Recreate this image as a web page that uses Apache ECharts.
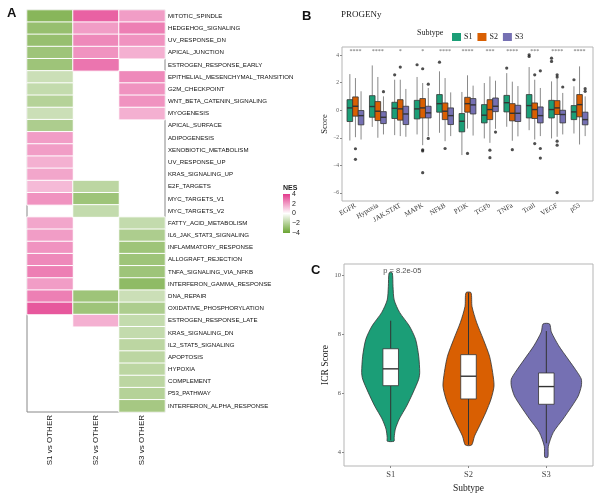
<!DOCTYPE html>
<html>
<head>
<meta charset="utf-8">
<script src="https://cdn.jsdelivr.net/npm/echarts@6/dist/echarts.min.js"></script>
<style>html,body{margin:0;padding:0;background:#fff}#c{width:600px;height:494px}</style>
</head>
<body>
<div id="c"></div>
<script>
// ---------- Panel A data ----------
const pathways = ['MITOTIC_SPINDLE','HEDGEHOG_SIGNALING','UV_RESPONSE_DN','APICAL_JUNCTION','ESTROGEN_RESPONSE_EARLY',
 'EPITHELIAL_MESENCHYMAL_TRANSITION','G2M_CHECKPOINT','WNT_BETA_CATENIN_SIGNALING','MYOGENESIS','APICAL_SURFACE',
 'ADIPOGENESIS','XENOBIOTIC_METABOLISM','UV_RESPONSE_UP','KRAS_SIGNALING_UP','E2F_TARGETS','MYC_TARGETS_V1','MYC_TARGETS_V2',
 'FATTY_ACID_METABOLISM','IL6_JAK_STAT3_SIGNALING','INFLAMMATORY_RESPONSE','ALLOGRAFT_REJECTION','TNFA_SIGNALING_VIA_NFKB',
 'INTERFERON_GAMMA_RESPONSE','DNA_REPAIR','OXIDATIVE_PHOSPHORYLATION','ESTROGEN_RESPONSE_LATE','KRAS_SIGNALING_DN',
 'IL2_STAT5_SIGNALING','APOPTOSIS','HYPOXIA','COMPLEMENT','P53_PATHWAY','INTERFERON_ALPHA_RESPONSE'];
const contrasts = ['S1 vs OTHER','S2 vs OTHER','S3 vs OTHER'];
const s1Nes = [-3.2,-2.8,-2.8,-2.6,-2.6,-1.4,-1.6,-2.0,-1.4,-2.2,2.0,2.0,1.6,1.8,1.4,2.2,null,1.8,2.0,2.2,2.4,2.6,2.0,2.6,3.4,null,null,null,null,null,null,null,null];
const s2Nes = [3.2,2.0,2.4,2.2,2.8,null,null,null,null,null,null,null,null,null,-1.8,-2.6,-1.6,null,null,null,null,null,null,-2.6,-2.6,1.6,null,null,null,null,null,null,null];
const s3Nes = [2.0,2.6,2.2,1.6,null,2.4,2.2,2.2,1.6,null,null,null,null,null,null,null,null,-1.6,-2.2,-2.6,-2.6,-2.6,-3.0,-1.4,-2.2,-1.6,-1.6,-1.8,-1.8,-1.8,-1.8,-2.0,-2.4];
const nesTicks = [4,2,0,-2,-4];

// ---------- Panel B data ----------
const progeny = ['EGFR','Hypoxia','JAK.STAT','MAPK','NFkB','PI3K','TGFb','TNFa','Trail','VEGF','p53'];
const subtypes = ['S1','S2','S3'];
// [min, Q1, median, Q3, max]
const boxS1 = [[-2.2,-0.82,0.17,0.77,2.63],[-1.21,-0.51,0.27,1.06,3.26],[-1.81,-0.6,0.14,0.58,2.22],[-1.76,-0.63,0.1,0.72,2.42],
 [-1.64,-0.14,0.48,1.14,2.83],[-3.26,-1.57,-0.8,-0.24,1.33],[-2.05,-0.92,-0.36,0.41,1.98],[-1.2,-0.12,0.55,1.08,2.7],
 [-1.45,-0.56,0.34,1.14,3.14],[-2.05,-0.56,0.05,0.72,2.1],[-1.69,-0.68,-0.12,0.34,1.74]];
const boxS2 = [[-1.96,-0.43,0.29,0.97,2.34],[-2.0,-0.75,-0.07,0.63,2.42],[-1.88,-0.72,0.1,0.77,2.22],[-2.54,-0.56,0.17,0.85,1.98],
 [-2.25,-0.68,-0.07,0.53,2.34],[-1.33,-0.14,0.48,0.94,2.54],[-2.37,-0.68,0.05,0.77,2.46],[-2.22,-0.77,-0.22,0.48,2.08],
 [-2.13,-0.6,0.05,0.53,2.22],[-1.93,-0.31,0.17,0.7,2.34],[-2.49,-0.48,0.41,1.14,3.19]];
const boxS3 = [[-2.13,-1.06,-0.39,-0.02,1.38],[-1.76,-0.97,-0.51,-0.1,1.01],[-1.93,-1.04,-0.27,0.29,1.55],[-1.88,-0.56,-0.19,0.29,1.62],
 [-1.88,-1.04,-0.39,0.17,1.3],[-1.84,-0.27,0.39,0.85,1.79],[-1.35,-0.1,0.29,0.89,2.15],[-1.9,-0.82,-0.22,0.36,1.76],
 [-1.88,-0.92,-0.39,0.24,1.62],[-1.76,-0.92,-0.31,0.0,1.26],[-1.88,-1.06,-0.68,-0.14,1.01]];
// outliers: [category index, value]
const outS1 = [[2,2.58],[3,3.31],[4,3.5],[7,3.07],[8,4.03],[8,3.91],[9,3.79],[9,3.55],[10,2.22]];
const outS2 = [[0,-2.8],[0,-3.57],[2,3.14],[3,3.02],[3,-2.88],[3,-2.96],[3,-4.54],[4,-2.78],[5,-3.14],[6,-2.9],[6,-3.45],
 [7,-2.87],[8,2.58],[8,-2.42],[9,2.58],[9,2.42],[9,-2.25],[9,-2.54],[9,-5.99]];
const outS3 = [[1,1.35],[3,1.9],[3,-2.05],[6,-1.59],[8,2.87],[8,-2.78],[8,-3.48],[9,1.69],[10,1.57],[10,1.38]];
const stars = ['****','****','*','*','****','****','***','****','***','****','****'];
const scoreTicks = [-6,-4,-2,0,2,4];

// ---------- Panel C data ----------
const icrBox = [[4.4,6.25,6.82,7.5,8.45],[4.25,5.8,6.57,7.3,9.4],[4.3,5.62,6.22,6.68,8.1]];
// violin profiles: [ICR score, half width (x units)]
const violinS1 = [[10.07,0.02],[9.6,0.03],[9.15,0.045],[8.73,0.115],[8.27,0.24],[7.82,0.32],[7.25,0.36],[6.7,0.373],[6.47,0.36],[6.03,0.29],[5.56,0.205],[5.12,0.11],[4.78,0.06],[4.5,0.045],[4.37,0.043]];
const violinS2 = [[9.4,0.032],[8.93,0.045],[8.4,0.103],[7.82,0.19],[7.25,0.27],[6.7,0.31],[6.24,0.328],[5.8,0.29],[5.36,0.225],[4.88,0.14],[4.54,0.077],[4.24,0.04]];
const violinS3 = [[8.34,0.042],[8.07,0.064],[7.6,0.16],[7.15,0.28],[6.7,0.4],[6.47,0.45],[6.24,0.45],[5.9,0.41],[5.56,0.33],[5.12,0.215],[4.67,0.09],[4.2,0.026],[3.83,0.02]];
const icrTicks = [4,6,8,10];
const pLabel = 'p = 8.2e-05';

// ---------- styling ----------
const colors = ['#1b9e77','#d95f02','#7570b3'];
const serif = 'Liberation Serif';
const sans = 'Liberation Sans';
const minus = v => String(v).replace('-', '\u2212');

const heatData = [];
[s1Nes, s2Nes, s3Nes].forEach((arr, c) => arr.forEach((v, r) => { if (v !== null) heatData.push([c, r, v]); }));

const boxSets = [boxS1, boxS2, boxS3];
const outSets = [outS1, outS2, outS3];
const dodge = [-0.25, 0, 0.25];

function boxRender(widthUnits, fill, strokeBox, strokeWhisk, medW) {
  return function (params, api) {
    const x = api.value(0);
    const w = api.size([widthUnits, 0])[0];
    const p = v => api.coord([x, v]);
    const cx = p(api.value(3))[0];
    const yMin = p(api.value(1))[1], yQ1 = p(api.value(2))[1], yMed = p(api.value(3))[1], yQ3 = p(api.value(4))[1], yMax = p(api.value(5))[1];
    const f = fill || api.visual('color');
    return { type: 'group', children: [
      { type: 'line', shape: { x1: cx, y1: yQ3, x2: cx, y2: yMax }, style: { stroke: strokeWhisk, lineWidth: 1 } },
      { type: 'line', shape: { x1: cx, y1: yQ1, x2: cx, y2: yMin }, style: { stroke: strokeWhisk, lineWidth: 1 } },
      { type: 'rect', shape: { x: cx - w / 2, y: yQ3, width: w, height: yQ1 - yQ3 }, style: { fill: f, stroke: strokeBox, lineWidth: 0.8 } },
      { type: 'line', shape: { x1: cx - w / 2, y1: yMed, x2: cx + w / 2, y2: yMed }, style: { stroke: strokeBox, lineWidth: medW } }
    ]};
  };
}

const series = [];
series.push({
  type: 'heatmap', xAxisIndex: 0, yAxisIndex: 0, data: heatData,
  itemStyle: { borderColor: '#ffffff', borderWidth: 1 }
});
subtypes.forEach((s, k) => {
  series.push({
    name: s, type: 'custom', xAxisIndex: 1, yAxisIndex: 1,
    itemStyle: { color: colors[k] },
    renderItem: boxRender(0.25, null, '#333', '#8a8a8a', 1.4),
    encode: { x: 0, y: [1, 2, 3, 4, 5] },
    data: boxSets[k].map((b, i) => [i + 1 + dodge[k]].concat(b))
  });
});
subtypes.forEach((s, k) => {
  series.push({
    name: s + ' outlier', type: 'scatter', xAxisIndex: 1, yAxisIndex: 1,
    symbolSize: 3.2, itemStyle: { color: '#222' },
    data: outSets[k].map(o => [o[0] + 1 + dodge[k], o[1]])
  });
});
series.push({
  type: 'scatter', xAxisIndex: 1, yAxisIndex: 1, symbolSize: 0,
  data: stars.map((s, i) => [i + 1, 4.3]),
  label: { show: true, position: 'inside', formatter: p => stars[p.dataIndex], fontSize: 6, color: '#333', fontFamily: serif }
});
const violins = [violinS1, violinS2, violinS3];
series.push({
  type: 'custom', xAxisIndex: 2, yAxisIndex: 2,
  encode: { x: 0, y: [1, 2] },
  data: violins.map((v, i) => [i + 1, v[v.length - 1][0], v[0][0]]),
  renderItem: function (params, api) {
    const x = api.value(0);
    const prof = violins[params.dataIndex];
    const right = prof.map(d => api.coord([x + d[1], d[0]]));
    const left = prof.slice().reverse().map(d => api.coord([x - d[1], d[0]]));
    return { type: 'polygon', shape: { points: right.concat(left), smooth: 0.25 },
      style: { fill: colors[params.dataIndex], stroke: '#333', lineWidth: 0.8 } };
  }
});
series.push({
  type: 'custom', xAxisIndex: 2, yAxisIndex: 2,
  renderItem: boxRender(0.2, '#ffffff', '#333', '#333', 1.4),
  encode: { x: 0, y: [1, 2, 3, 4, 5] },
  data: icrBox.map((b, i) => [i + 1].concat(b))
});
series.push({
  type: 'scatter', xAxisIndex: 2, yAxisIndex: 2, symbolSize: 0,
  data: [[1.15, 10.13]],
  label: { show: true, position: 'inside', formatter: pLabel, fontSize: 7.5, color: '#222', fontFamily: sans }
});

// NES legend graphic
const legX = 283, legTop = 194, legH = 39;
const nesGraphic = [
  { type: 'text', left: legX, top: 185, style: { text: 'NES', font: 'bold 7px ' + sans, fill: '#222' } },
  { type: 'rect', shape: { x: legX, y: legTop, width: 7, height: legH },
    style: { fill: new echarts.graphic.LinearGradient(0, 0, 0, 1, [
      { offset: 0, color: '#e33a8c' }, { offset: 0.5, color: '#ffffff' }, { offset: 1, color: '#6aa431' }]) } }
].concat(nesTicks.map(t => ({
  type: 'text', x: legX + 9, y: legTop + (4 - t) / 8 * legH,
  style: { text: minus(t), font: '7px ' + sans, fill: '#222', textVerticalAlign: 'middle' }
})));

const option = {
  animation: false,
  backgroundColor: '#ffffff',
  textStyle: { fontFamily: sans },
  grid: [
    { left: 27, top: 10, width: 138, height: 402, show: true, borderColor: '#888', borderWidth: 1 },
    { left: 342, top: 47, width: 251, height: 154, show: true, borderColor: '#b5b5b5', borderWidth: 1 },
    { left: 344, top: 264, width: 249, height: 203, show: true, borderColor: '#b5b5b5', borderWidth: 1 }
  ],
  visualMap: { show: false, min: -4, max: 4, seriesIndex: 0, inRange: { color: ['#6aa431', '#ffffff', '#e33a8c'] } },
  legend: {
    data: subtypes, left: 447, top: 28, itemWidth: 9, itemHeight: 8, itemGap: 5, icon: 'rect', selectedMode: false,
    textStyle: { fontFamily: serif, fontSize: 8, color: '#222', padding: [0, 0, 0, -2] }
  },
  xAxis: [
    { type: 'category', gridIndex: 0, data: contrasts, axisLine: { show: false }, axisTick: { show: false },
      axisLabel: { rotate: 90, fontSize: 8, color: '#222', margin: 3, fontFamily: sans } },
    { type: 'value', gridIndex: 1, min: 0.4, max: 11.6, splitLine: { show: false }, axisLine: { show: false },
      axisTick: { show: true, customValues: progeny.map((p, i) => i + 1), length: 2, lineStyle: { color: '#888' } },
      axisLabel: { customValues: progeny.map((p, i) => i + 1), formatter: v => progeny[Math.round(v) - 1], rotate: 30,
        fontSize: 7, fontFamily: serif, color: '#333', margin: 4 } },
    { type: 'value', gridIndex: 2, min: 0.4, max: 3.6, splitLine: { show: false }, axisLine: { show: false },
      axisTick: { show: true, customValues: [1, 2, 3], length: 2, lineStyle: { color: '#888' } },
      axisLabel: { customValues: [1, 2, 3], formatter: v => subtypes[Math.round(v) - 1], fontSize: 8.5, fontFamily: serif, color: '#444', margin: 4 },
      name: 'Subtype', nameLocation: 'middle', nameGap: 17, nameTextStyle: { fontFamily: serif, fontSize: 9.5, color: '#222' } }
  ],
  yAxis: [
    { type: 'category', gridIndex: 0, data: pathways, inverse: true, position: 'right', axisLine: { show: false }, axisTick: { show: false },
      axisLabel: { fontSize: 6.1, color: '#111', margin: 3, fontFamily: sans } },
    { type: 'value', gridIndex: 1, min: -6.6, max: 4.6, splitLine: { show: false }, axisLine: { show: false },
      axisTick: { show: true, customValues: scoreTicks, length: 2, lineStyle: { color: '#888' } },
      axisLabel: { customValues: scoreTicks, formatter: minus, fontSize: 5.5, fontFamily: serif, color: '#555', margin: 3 },
      name: 'Score', nameLocation: 'middle', nameGap: 13, nameTextStyle: { fontFamily: serif, fontSize: 8.5, color: '#222' } },
    { type: 'value', gridIndex: 2, min: 3.53, max: 10.37, splitLine: { show: false }, axisLine: { show: false },
      axisTick: { show: true, customValues: icrTicks, length: 2, lineStyle: { color: '#888' } },
      axisLabel: { customValues: icrTicks, fontSize: 6.5, fontFamily: serif, color: '#555', margin: 3 },
      name: 'ICR Score', nameLocation: 'middle', nameGap: 12, nameTextStyle: { fontFamily: serif, fontSize: 9.5, color: '#222' } }
  ],
  graphic: [
    { type: 'text', left: 7, top: 7, style: { text: 'A', font: 'bold 13px ' + sans, fill: '#111' } },
    { type: 'text', left: 302, top: 10, style: { text: 'B', font: 'bold 13px ' + sans, fill: '#111' } },
    { type: 'text', left: 311, top: 264, style: { text: 'C', font: 'bold 13px ' + sans, fill: '#111' } },
    { type: 'text', left: 341, top: 10, style: { text: 'PROGENy', font: '9px ' + serif, fill: '#222' } },
    { type: 'text', left: 417, top: 29, style: { text: 'Subtype', font: '8px ' + serif, fill: '#222' } }
  ].concat(nesGraphic),
  series: series
};
const chart = echarts.init(document.getElementById('c'), null, { renderer: 'canvas' });
chart.setOption(option);
</script>
</body>
</html>
